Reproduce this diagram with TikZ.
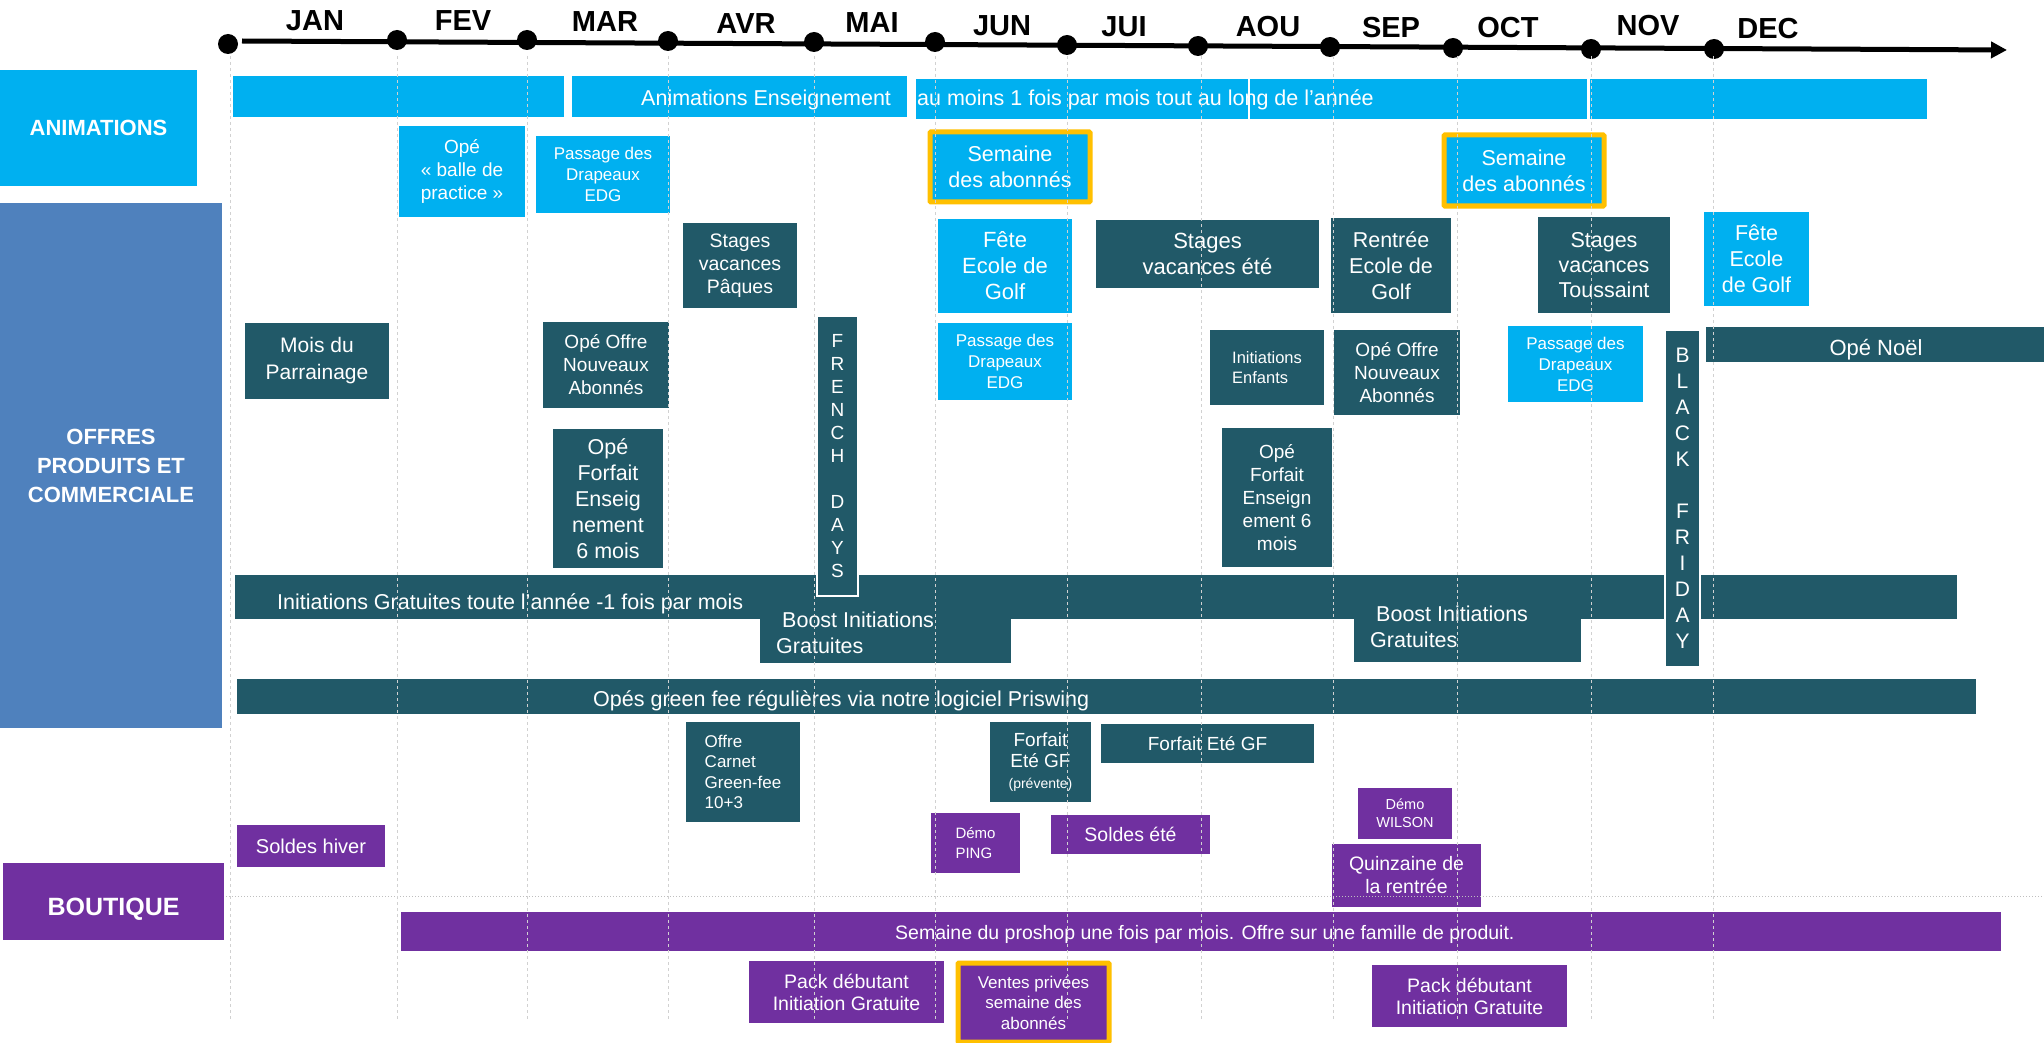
\documentclass[tikz,border=0pt]{standalone}
\usepackage{fontspec}
\setmainfont{Liberation Sans}
\usepackage{tikz}
\usetikzlibrary{arrows.meta}
\definecolor{animblue}{HTML}{00B0F0}
\definecolor{offreteal}{HTML}{215968}
\definecolor{offrelabel}{HTML}{4F81BD}
\definecolor{shoppurple}{HTML}{7030A0}
\definecolor{abonorange}{HTML}{FFC000}
\def\evt[#1](#2,#3)(#4,#5)#6#7{\pgfmathsetmacro\evtw{#4-#2}\pgfmathsetmacro\evth{#5-#3}\node[#1, minimum width=\evtw pt, minimum height=\evth pt] (#6) at ({(#2+#4)/2},{(#3+#5)/2}) {#7};}
\tikzset{
	txt/.style 2 args={font=\fontsize{#1}{#2}\selectfont},
	cal/.style={inner sep=0pt, outer sep=0pt, text=white, align=center},
	anim/.style={cal, fill=animblue},
	offre/.style={cal, fill=offreteal},
	shop/.style={cal, fill=shoppurple},
	abonnes/.style={draw=abonorange, line width=5pt, rounded corners=1pt},
	upright/.style={draw=white, line width=2pt},
	sectionlabel/.style={font=\bfseries\fontsize{22}{29}\selectfont},
	bartext/.style={inner sep=0pt, text=white, txt={21.5}{26}},
	monthlabel/.style={inner sep=0pt, font=\bfseries\fontsize{29}{29}\selectfont},
	monthdot/.style={circle, fill=black, inner sep=0pt, minimum size=20pt},
	monthline/.style={color=black!18, line width=1pt, dash pattern=on 3pt off 3pt}
}

\begin{document}
\begin{tikzpicture}[x=1pt, y=-1pt]
		%%%%% START %%%%%
		\path[use as bounding box, fill=white] (0,0) rectangle (2044,1043);
		
		% timeline
		\coordinate (t start) at (242,41);
		\coordinate (t end) at (2007,50);
		\draw[line width=5pt, -{Triangle[length=16pt,width=16pt]}] (t start) -- (t end);
		\node[monthdot] (d0) at (228,44) {};
		\foreach \x/\y [count=\i] in {397/40,527/40,668/41,814/42,935/42,1067/45,1198/46,1330/47,1453/48,1591/49,1714/49}
			\node[monthdot] (d\i) at (\x,\y) {};
		\foreach \m/\x/\y in {JAN/315/21,FEV/463/21,MAR/605/22,AVR/746/24,MAI/872/23,JUN/1002/26,JUI/1124/27,AOU/1268/27,SEP/1391/28,OCT/1508/28,NOV/1648/26,DEC/1768/29}
			\node[monthlabel] (m\m) at (\x,\y) {\m};
		
		% section labels
		\evt[anim, sectionlabel](0,70)(197,186){lbl anim}{ANIMATIONS}
		\evt[cal, fill=offrelabel, sectionlabel](0,203)(222,728){lbl offres}{OFFRES\\PRODUITS ET\\COMMERCIALE}
		\evt[shop, font=\bfseries\fontsize{25}{29}\selectfont](3,863)(224,940){lbl shop}{\raisebox{-8pt}[\height][\depth]{BOUTIQUE}}
		
		% animations
		\evt[anim](233,76)(564,117){anim bar1}{}
		\evt[anim](572,76)(907,117){anim bar2}{}
		\evt[anim](916,79)(1248,119){anim bar3}{}
		\evt[anim](1250,79)(1587,119){anim bar4}{}
		\evt[anim](1590,79)(1927,119){anim bar5}{}
		\node[bartext, anchor=base west] (anim txt1) at (641,106) {Animations Enseignement};
		\node[bartext, anchor=base west] (anim txt2) at (917,106) {au moins 1 fois par mois tout au long de l’année};
		\evt[anim, txt={19}{23}](399,126)(525,217){balle}{Opé\\« balle de\\practice »}
		\evt[anim, txt={17}{21}](536,136)(670,213){drapeaux mar}{Passage des\\Drapeaux\\EDG}
		\evt[anim, abonnes, txt={21.5}{26}](930,132)(1090,202){semaine jun}{Semaine\\des abonnés}
		\evt[anim, abonnes, txt={21.5}{26}](1444,135)(1604,206){semaine oct}{Semaine\\des abonnés}
		
		% offres produits et commerciale
		\evt[offre, txt={19.5}{23}](683,223)(797,308){stages paques}{Stages\\vacances\\Pâques}
		\evt[anim, txt={22}{26}](938,219)(1072,313){fete jun}{Fête\\Ecole de\\Golf}
		\evt[offre, txt={22}{26}](1096,220)(1319,288){stages ete}{Stages\\vacances été}
		\evt[offre, txt={21.5}{26}](1331,218)(1451,313){rentree}{Rentrée\\Ecole de\\Golf}
		\evt[offre, txt={21.5}{25}](1538,217)(1670,313){stages toussaint}{Stages\\vacances\\Toussaint}
		\evt[anim, txt={21.5}{26}](1704,212)(1809,306){fete dec}{Fête\\Ecole\\de Golf}
		\evt[offre, txt={21}{27}](245,323)(389,399){parrainage}{Mois du\\Parrainage}
		\evt[offre, txt={19}{23}](543,322)(669,408){nouveaux mar}{Opé Offre\\Nouveaux\\Abonnés}
		\evt[anim, txt={17}{21}](938,323)(1072,400){drapeaux jun}{Passage des\\Drapeaux\\EDG}
		\evt[offre, txt={16.5}{20}, align=left](1210,330)(1324,405){enfants}{Initiations\\Enfants}
		\evt[offre, txt={19}{23}](1334,330)(1460,415){nouveaux sep}{Opé Offre\\Nouveaux\\Abonnés}
		\evt[anim, txt={17}{21}](1508,326)(1643,402){drapeaux nov}{Passage des\\Drapeaux\\EDG}
		\evt[offre, txt={22}{26}](1706,327)(2046,362){noel}{\raisebox{-5pt}[\height][\depth]{Opé Noël}}
		\evt[offre, txt={21.5}{26}](553,429)(663,568){forfait mar}{Opé\\Forfait\\Enseig\\nement\\6 mois}
		\evt[offre, txt={19}{23}](1222,428)(1332,567){forfait aou}{Opé\\Forfait\\Enseign\\ement 6\\mois}
		
		\evt[offre](235,575)(1957,619){initiations}{}
		\evt[offre](760,600)(1011,663){boost1}{}
		\evt[offre](1354,600)(1581,662){boost2}{}
		\node[bartext, anchor=base west] (init txt) at (277,609) {Initiations Gratuites toute l’année -1 fois par mois};
		\node[bartext, anchor=west, align=left] (boost1 txt) at (776,633) {\hspace*{6pt}Boost Initiations\\Gratuites};
		\node[bartext, anchor=west, align=left] (boost2 txt) at (1370,627) {\hspace*{6pt}Boost Initiations\\Gratuites};
		\evt[offre, upright, txt={19}{23}](817,316)(858,596){french days}{F\\R\\E\\N\\C\\H\\[23pt]D\\A\\Y\\S}
		\evt[offre, upright, txt={21}{26}](1665,330)(1700,667){black friday}{B\\L\\A\\C\\K\\[26pt]F\\R\\I\\D\\A\\Y}
		
		\evt[offre](237,679)(1976,714){green fee}{}
		\node[bartext, anchor=base west] (green txt) at (593,706) {Opés green fee régulières via notre logiciel Priswing};
		\evt[offre, txt={17}{20.5}, align=left](686,722)(800,822){carnet}{Offre\\Carnet\\Green-fee\\10+3}
		\evt[offre, txt={19}{21}](990,722)(1091,802){forfait prevente}{Forfait\\Eté GF\\{\fontsize{14}{17}\selectfont(prévente)}}
		\evt[offre, txt={19}{23}](1101,724)(1314,763){forfait ete}{Forfait Eté GF}
		
		% boutique
		\evt[shop, txt={20}{24}](237,825)(385,867){soldes hiver}{Soldes hiver}
		\evt[shop, txt={15}{20}, align=left](931,813)(1020,873){demo ping}{Démo\\PING}
		\evt[shop, txt={19.5}{23}](1051,815)(1210,854){soldes ete}{Soldes été}
		\evt[shop, txt={14.5}{18}](1358,788)(1452,839){demo wilson}{Démo\\WILSON}
		\evt[shop, txt={19.5}{23}](1332,844)(1481,907){quinzaine}{Quinzaine de\\la rentrée}
		\draw[color=black!25, line width=1pt, dotted] (226,896) -- (2044,896);
		\evt[shop](401,912)(2001,951){proshop}{}
		\node[bartext, txt={19.5}{23}, anchor=base west] (proshop txt) at (895,939) {Semaine du proshop une fois par mois. Offre sur une famille de produit.};
		\evt[shop, txt={19.5}{22}](749,961)(944,1023){pack1}{Pack débutant\\Initiation Gratuite}
		\evt[shop, abonnes, txt={17}{20.5}](958,963)(1109,1042){ventes}{Ventes privées\\semaine des\\abonnés}
		\evt[shop, txt={19.5}{22}](1372,965)(1567,1027){pack2}{Pack débutant\\Initiation Gratuite}
		
		% month grid
		\foreach \x in {230,397,527,668,814,935,1067,1201,1333,1457,1591,1713}
			\draw[monthline] (\x,56) -- (\x,1020);
		%%%%% END %%%%%
\end{tikzpicture}
\end{document}
